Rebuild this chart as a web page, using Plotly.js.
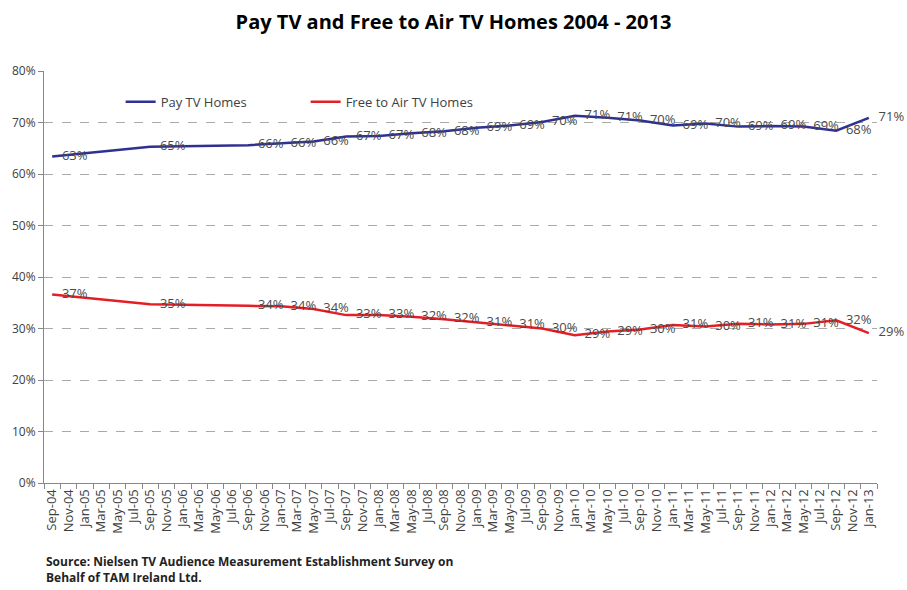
<!DOCTYPE html>
<html>
<head>
<meta charset="utf-8">
<script src="https://cdn.plot.ly/plotly-3.0.1.min.js"></script>
<style>html,body{margin:0;padding:0;background:#fff;}#chart{width:907px;height:590px;}</style>
</head>
<body>
<div id="chart"></div>
<script>
// All bimonthly category labels on the x axis
var categories = ["Sep-04","Nov-04","Jan-05","Mar-05","May-05","Jul-05","Sep-05","Nov-05","Jan-06","Mar-06","May-06","Jul-06","Sep-06","Nov-06","Jan-07","Mar-07","May-07","Jul-07","Sep-07","Nov-07","Jan-08","Mar-08","May-08","Jul-08","Sep-08","Nov-08","Jan-09","Mar-09","May-09","Jul-09","Sep-09","Nov-09","Jan-10","Mar-10","May-10","Jul-10","Sep-10","Nov-10","Jan-11","Mar-11","May-11","Jul-11","Sep-11","Nov-11","Jan-12","Mar-12","May-12","Jul-12","Sep-12","Nov-12","Jan-13"];
// Survey dates that carry data
var surveyDates = ["Sep-04","Sep-05","Sep-06","Jan-07","May-07","Sep-07","Jan-08","May-08","Sep-08","Jan-09","May-09","Sep-09","Jan-10","May-10","Sep-10","Jan-11","May-11","Sep-11","Jan-12","May-12","Sep-12","Jan-13"];
var payTV = [63.4,65.3,65.6,65.9,66.3,67.3,67.4,67.9,68.3,69.0,69.4,70.1,71.3,70.9,70.4,69.4,69.8,69.2,69.3,69.2,68.4,70.9];
var freeToAir = [36.6,34.7,34.4,34.3,33.8,32.6,32.6,32.3,31.8,31.2,30.7,30.0,28.7,29.4,29.8,30.7,30.4,30.9,30.8,30.9,31.6,29.1];

function spread(vals) {
  var y = [], t = [];
  categories.forEach(function (c) {
    var i = surveyDates.indexOf(c);
    if (i >= 0) { y.push(vals[i]); t.push(Math.round(vals[i]) + "%"); }
    else { y.push(null); t.push(""); }
  });
  return {y: y, t: t};
}
var pay = spread(payTV);
var fta = spread(freeToAir);

var FONT = "Open Sans, Noto Sans, sans-serif";
function trace(d, name, color) {
  return {x: categories, y: d.y, text: d.t, textposition: "middle right", name: name,
    type: "scatter", mode: "lines+markers+text", connectgaps: true, cliponaxis: false,
    marker: {size: 14, color: "rgba(0,0,0,0)", line: {width: 0}},
    line: {color: color, width: 2.5}, textfont: {family: FONT, size: 13, color: "#4a4a4a"}};
}
var traces = [trace(pay, "Pay TV Homes", "#2E3092"), trace(fta, "Free to Air TV Homes", "#E41E26")];

var layout = {
  width: 907, height: 590,
  margin: {l: 44, r: 30, t: 71, b: 107},
  paper_bgcolor: "#fff", plot_bgcolor: "#fff",
  font: {family: FONT, color: "#404040"},
  title: {text: "<b>Pay TV and Free to Air TV Homes 2004 - 2013</b>", x: 0.5, xanchor: "center", y: 0.963, yanchor: "middle",
          font: {family: FONT, size: 20, color: "#000"}},
  showlegend: true,
  legend: {orientation: "h", x: 0.092, xanchor: "left", y: 0.925, yanchor: "middle",
           font: {family: FONT, size: 13, color: "#404040"}, bgcolor: "rgba(0,0,0,0)",
           entrywidth: 140, itemwidth: 30},
  xaxis: {type: "category", range: [-0.5, 50.5], tickson: "boundaries", ticks: "outside", ticklen: 5, tickcolor: "#888",
          showline: true, linecolor: "#888", linewidth: 1, showgrid: false, tickangle: -90,
          tickfont: {family: FONT, size: 13, color: "#404040"}, fixedrange: true},
  yaxis: {range: [0, 80], dtick: 10, ticksuffix: "%", ticks: "outside", ticklen: 5, tickcolor: "#888",
          showline: true, linecolor: "#888", linewidth: 1, showgrid: true, gridcolor: "#aaa", griddash: "dash",
          zeroline: false, tickfont: {family: FONT, size: 12, color: "#404040"}, fixedrange: true},
  annotations: [{xref: "paper", yref: "paper", x: 0, y: -0.165, xanchor: "left", yanchor: "top", align: "left",
                 showarrow: false, text: "<b>Source: Nielsen TV Audience Measurement Establishment Survey on<br>Behalf of TAM Ireland Ltd.</b>",
                 font: {family: FONT, size: 12, color: "#222"}}]
};
Plotly.newPlot("chart", traces, layout, {displayModeBar: false, staticPlot: true});
</script>
</body>
</html>
